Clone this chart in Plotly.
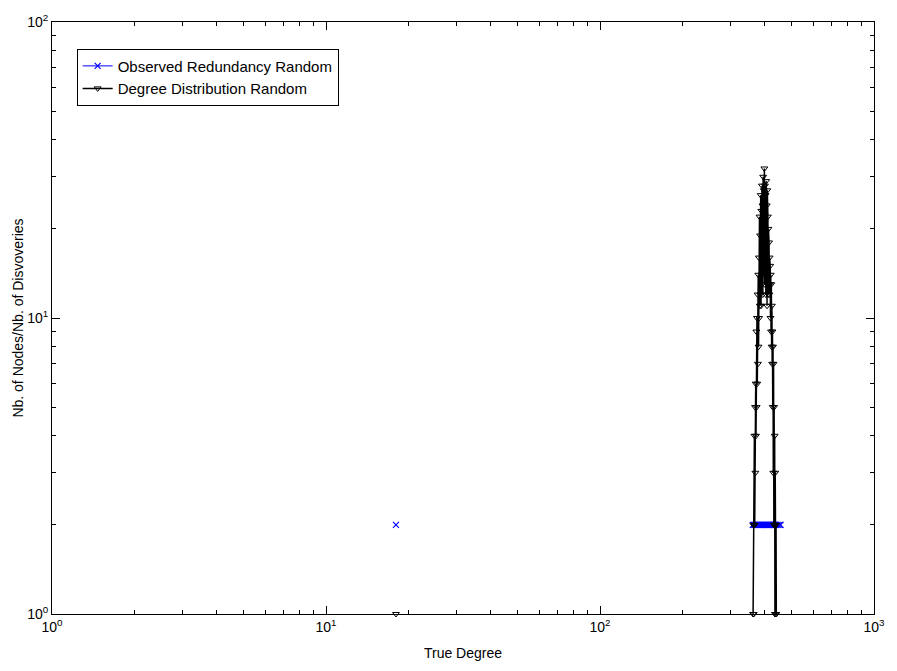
import plotly.graph_objects as go

# ---- data ----
obs_degree = [18, None,
              361, 364, 367, 370, 373, 376, 379, 382, 385, 388, 391, 394, 397,
              400, 403, 406, 409, 412, 415, 418, 421, 424, 427, 430, 433, 436,
              440, 445, 452, 456]
obs_value = [2, None,
             2, 2, 2, 2, 2, 2, 2, 2, 2, 2, 2, 2, 2,
             2, 2, 2, 2, 2, 2, 2, 2, 2, 2, 2, 2, 2,
             2, 2, 2, 2]

deg_degree = [18, None,
              362, 363, 364, 365, 366, 367, 368, 369, 370, 371, 372, 373, 374,
              375, 376, 377, 378, 379, 380, 381, 382, 383, 384, 385, 386, 387,
              388, 389, 390, 391, 392, 393, 394, 395, 396, 397, 398, 399, 400,
              401, 402, 403, 404, 405, 406, 407, 408, 409, 410, 411, 412, 413,
              414, 415, 416, 417, 418, 419, 420, 421, 422, 423, 424, 425, 426,
              427, 428, 429, 430, 431, 432, 433, 434, 435, 436, 437, 438, 439,
              440]
deg_count = [1, None,
             1, 2, 1, 2, 4, 2, 5, 3, 6, 4, 9, 5, 10,
             6, 12, 7, 14, 8, 16, 10, 22, 11, 19, 12, 26, 11,
             23, 14, 28, 13, 24, 12, 30, 15, 27, 14, 32, 13, 28,
             16, 26, 12, 29, 15, 24, 11, 27, 14, 22, 12, 20, 13,
             18, 12, 16, 13, 15, 10, 14, 9, 13, 8, 11, 7, 9,
             5, 8, 3, 7, 2, 5, 2, 4, 1, 3, 2, 1, 2,
             1]

x_tickvals = [1, 10, 100, 1000]
x_ticktext = ["10<sup>0</sup>", "10<sup>1</sup>", "10<sup>2</sup>", "10<sup>3</sup>"]
y_tickvals = [1, 10, 100]
y_ticktext = ["10<sup>0</sup>", "10<sup>1</sup>", "10<sup>2</sup>"]
x_minor = [2, 3, 4, 5, 6, 7, 8, 9, 20, 30, 40, 50, 60, 70, 80, 90,
           200, 300, 400, 500, 600, 700, 800, 900]
y_minor = [2, 3, 4, 5, 6, 7, 8, 9, 20, 30, 40, 50, 60, 70, 80, 90]

FONT = "Liberation Sans, Arial, sans-serif"

fig = go.Figure()
fig.add_trace(go.Scatter(
    x=obs_degree, y=obs_value, mode="lines+markers",
    name="Observed Redundancy Random",
    line=dict(color="#0000ff", width=1),
    marker=dict(symbol="x-thin", size=6, color="#0000ff",
                line=dict(color="#0000ff", width=1.2)),
    connectgaps=False, cliponaxis=False))
fig.add_trace(go.Scatter(
    x=deg_degree, y=deg_count, mode="lines+markers",
    name="Degree Distribution Random",
    line=dict(color="black", width=1.5),
    marker=dict(symbol="triangle-down-open", size=6, color="black",
                line=dict(color="black", width=1)),
    connectgaps=False, cliponaxis=False))

axis_common = dict(
    showline=True, linecolor="black", linewidth=1, mirror="ticks",
    ticks="inside", ticklen=8, tickcolor="black", tickwidth=1,
    showgrid=False, zeroline=False,
    tickfont=dict(family=FONT, size=14, color="black"),
)

fig.update_xaxes(type="log", range=[0, 3], tickmode="array",
                 tickvals=x_tickvals, ticktext=x_ticktext,
                 minor=dict(tickmode="array", tickvals=x_minor, ticks="inside",
                            ticklen=4, tickcolor="black", showgrid=False),
                 title=dict(text="True Degree", standoff=14,
                            font=dict(family=FONT, size=14, color="black")),
                 **axis_common)
fig.update_yaxes(type="log", range=[0, 2], tickmode="array",
                 tickvals=y_tickvals, ticktext=y_ticktext,
                 minor=dict(tickmode="array", tickvals=y_minor, ticks="inside",
                            ticklen=4, tickcolor="black", showgrid=False),
                 title=dict(text="Nb. of Nodes/Nb. of Disvoveries", standoff=0,
                            font=dict(family=FONT, size=14, color="black")),
                 **axis_common)

fig.update_layout(
    width=897, height=671,
    margin=dict(l=52, r=16, t=19, b=52),
    paper_bgcolor="white", plot_bgcolor="white",
    font=dict(family=FONT, size=14, color="black"),
    legend=dict(x=0.03, y=0.955, xanchor="left", yanchor="top",
                bgcolor="white", bordercolor="black", borderwidth=1,
                font=dict(family=FONT, size=15, color="black"),
                tracegroupgap=0, itemwidth=30),
    showlegend=True,
)

fig.write_html("out.html")
